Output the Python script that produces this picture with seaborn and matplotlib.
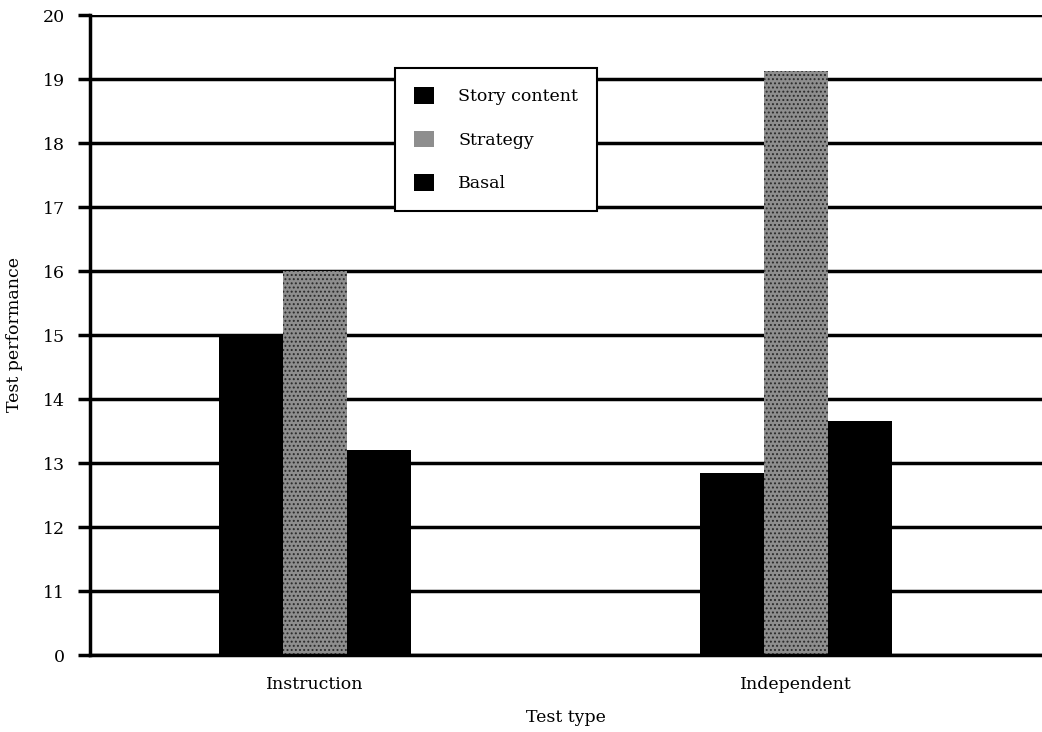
import matplotlib
matplotlib.use("Agg")
import matplotlib.pyplot as plt
import seaborn as sns
import pandas as pd

test_types = ["Instruction", "Independent"]
groups = ["Story content", "Strategy", "Basal"]
story_content = [15.0, 12.84]
strategy = [16.0, 19.12]
basal = [13.2, 13.66]
y_ticks = [10, 11, 12, 13, 14, 15, 16, 17, 18, 19, 20]
y_tick_labels = ["0", "11", "12", "13", "14", "15", "16", "17", "18", "19", "20"]

rows = []
for g, vals in zip(groups, [story_content, strategy, basal]):
    for t, v in zip(test_types, vals):
        rows.append({"Test type": t, "Group": g, "Score": v})
df = pd.DataFrame(rows)

sns.set_theme(style="white")
plt.rcParams["font.family"] = ["DejaVu Serif", "Liberation Serif"]
plt.rcParams["text.color"] = "black"
plt.rcParams["axes.labelcolor"] = "black"
plt.rcParams["xtick.color"] = "black"
plt.rcParams["ytick.color"] = "black"
plt.rcParams["hatch.linewidth"] = 0.9

FS = 12.5

fig = plt.figure(figsize=(10.42, 7.32), dpi=100)
ax = fig.add_axes([90 / 1042, 77 / 732, 1 - 90 / 1042, 640 / 732])

palette = {"Story content": "black", "Strategy": "#8e8e8e", "Basal": "black"}
sns.barplot(data=df, x="Test type", y="Score", hue="Group", order=test_types,
            hue_order=groups, palette=palette, width=0.4, saturation=1,
            edgecolor="none", ax=ax)

# stippled texture on the Strategy bars
for bar in ax.containers[1]:
    bar.set_hatch("....")
    bar.set_edgecolor("#2a2a2a")
    bar.set_linewidth(0)

ax.set_xlim(-0.468, 1.511)
ax.set_ylim(10, 20)
ax.set_yticks(y_ticks)
ax.set_yticklabels(y_tick_labels, fontsize=FS)
ax.tick_params(axis="y", left=True, length=9, width=2.5, color="black",
               pad=9, labelcolor="black")
ax.tick_params(axis="x", bottom=False, length=0, pad=15, labelsize=FS,
               labelcolor="black")

ax.yaxis.grid(True, color="black", linewidth=2.5)
ax.set_axisbelow(True)
for side in ["top", "right"]:
    ax.spines[side].set_visible(False)
ax.spines["left"].set_linewidth(2.5)
ax.spines["left"].set_color("black")
ax.spines["bottom"].set_linewidth(2.5)
ax.spines["bottom"].set_color("black")

ax.set_xlabel("Test type", fontsize=FS, labelpad=12, color="black")
ax.set_ylabel("Test performance", fontsize=FS, labelpad=14, color="black")

handles, labels = ax.get_legend_handles_labels()
leg = ax.legend(handles, labels, loc="upper left",
                bbox_to_anchor=((395 - 90) / 952, (655 - 68) / 640),
                bbox_transform=ax.transAxes,
                fontsize=FS, frameon=True, fancybox=False, framealpha=1,
                handlelength=1.15, handleheight=1.1, labelspacing=1.45,
                borderpad=1.1, handletextpad=1.4, borderaxespad=0)
leg.get_frame().set_edgecolor("black")
leg.get_frame().set_linewidth(1.5)
leg.get_frame().set_facecolor("white")
for txt in leg.get_texts():
    txt.set_color("black")

fig.savefig("out.png", dpi=100, facecolor="white")
